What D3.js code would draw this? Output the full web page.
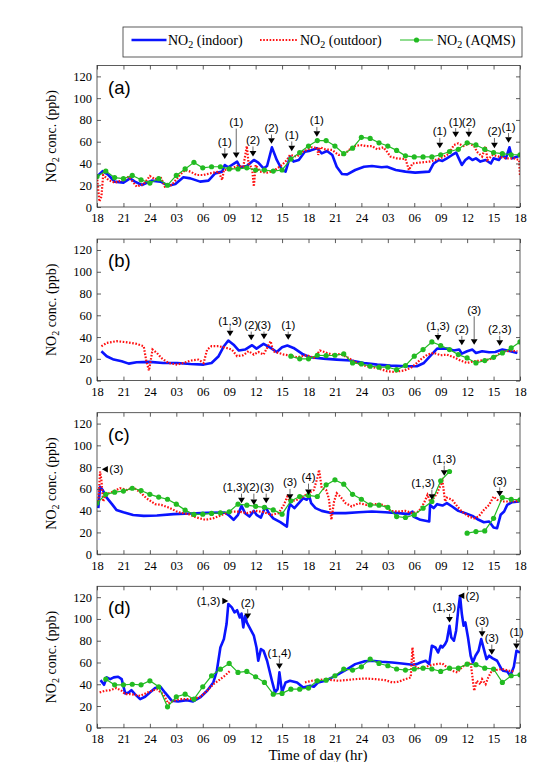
<!DOCTYPE html>
<html><head><meta charset="utf-8">
<script src="https://cdn.jsdelivr.net/npm/d3@7/dist/d3.min.js"></script>
<style>body{margin:0;background:#fff}</style>
</head><body>
<svg id="chart" width="557" height="762"></svg>
<script>
// ---------- DATA ----------
const hourLabels = ["18","21","24","03","06","09","12","15","18","21","24","03","06","09","12","15","18"];
const yTickValues = [0,20,40,60,80,100,120];
const panelNames = ["(a)","(b)","(c)","(d)"];
const legendNames = [["NO","2"," (indoor)"],["NO","2"," (outdoor)"],["NO","2"," (AQMS)"]];

// hours since 18:00 of day 1, NO2 ppb
const indoorA = [[0,28],[0.64,33],[1.3,29.4],[2,23.3],[3,22.4],[3.75,26.3],[4.3,23.3],[5.1,20.2],[6.2,24.2],[7.2,23.3],[8.1,19.6],[8.9,21.1],[9.8,27.3],[10.6,26.3],[11.7,23.3],[12.65,24.2],[13.4,30.9],[14.2,32.5],[14.5,38.6],[14.9,36.5],[15.9,41.7],[16.25,36.5],[17,37.7],[17.8,43.2],[18.3,40.7],[18.9,35.5],[19.3,37.7],[19.85,54.8],[20.4,43.2],[21,34],[21.4,32.5],[21.9,46.3],[22.3,41.7],[22.9,43.2],[23.6,50.9],[24.2,51.8],[24.95,54],[25.5,49.3],[26.1,51.5],[26.7,47.8],[27.2,37],[27.8,30.3],[28.4,30],[29.3,34],[30.3,37],[31.2,37.7],[32.3,36.5],[32.9,37],[33.9,34],[35,32.5],[36.1,31.6],[37.7,32.5],[38.2,40],[38.8,43.2],[39.2,42.3],[39.7,44.7],[40.3,47.8],[40.75,50],[41,45.6],[41.4,38.6],[41.8,43.2],[42.2,45.6],[42.6,43.2],[43,44.7],[43.5,41.7],[44.1,43.2],[44.7,40],[45,44.7],[45.6,43.2],[46,47.8],[46.4,44.7],[46.8,54.8],[47.1,44.7],[47.9,46.9]];
const outdoorA = [[0,28],[0.27,5],[0.5,9.5],[0.7,29.4],[1.3,24.8],[2,22.4],[3,24.8],[3.6,27.9],[4.5,18.7],[5.3,21.1],[6,28.5],[6.6,25.4],[7.2,27.9],[7.7,18.7],[8.5,20.2],[9.4,29.4],[10,34],[10.6,32.5],[11.3,29.4],[12.1,29.4],[12.8,30.9],[13.8,32.5],[14.2,24.8],[14.4,34],[15.1,34.6],[15.9,37.7],[16.6,37],[17,56],[17.2,40],[17.6,35.5],[17.8,18.7],[18,38.6],[18.5,32.5],[19.3,31.6],[20,33],[21,38.6],[21.55,43.2],[21.9,47.8],[22.7,46.3],[23.4,50.9],[24.4,54.8],[25,54],[25.1,47.8],[25.3,54.8],[25.9,53],[26.7,52.4],[27.4,47.8],[28,47.8],[28.6,52.4],[29.3,56],[29.9,57],[30.5,56],[31.2,56],[31.8,53],[32.5,54.8],[32.9,50.9],[33.3,46.3],[34,44.7],[35,44.1],[35.4,34],[35.8,40],[36.5,40.7],[37.7,41.7],[38.4,43.2],[39.2,45.6],[39.9,48.7],[40.5,57],[41,58.5],[41.6,56],[42.2,58.5],[42.8,56],[43.1,50.9],[43.7,46.3],[44.1,56],[44.3,43.2],[44.9,47.8],[45.6,46.3],[46.4,44.7],[47.3,44.7],[47.9,43.2],[48,28]];
const aqmsA = [[0,28],[1,33],[2,27],[3,26],[4,29],[5,25],[6,22],[7,26],[8,20],[9,29],[10,35],[11,41],[12,36],[13,37],[14,37],[15,35],[16,35],[17,36],[18,34],[19,34],[20,33],[21,34],[22,44],[23,50],[24,56],[25,61],[26,61],[27,56],[28,49],[29,54],[30,64],[31,63],[32,59],[33,56],[34,52],[35,47],[36,46],[37,46],[38,46],[39,48],[40,51],[41,53],[42,59],[43,57],[44,53],[45,50],[46,49],[47,48],[48,48]];

const indoorB = [[0.5,27],[1.1,22.4],[1.9,19.3],[2.8,17.8],[3.6,15.6],[4.5,16.9],[6,17.2],[7.5,16.2],[9.1,16.2],[10.6,15.3],[12.1,14.7],[13,16.2],[13.8,22.4],[14.4,31.6],[14.9,36.8],[15.5,33],[16.1,27.6],[16.8,28.5],[17.6,32.5],[18.1,29.4],[18.9,33.7],[19.7,30],[20.4,26.3],[21,30.6],[21.6,32.2],[22.3,30],[23.3,24.5],[24.2,21.4],[25.7,20.2],[27.2,19.3],[28.8,18.4],[30.3,16.2],[31.8,14.7],[33.3,13.8],[35.2,13.2],[36.3,13.2],[37.1,16.2],[37.8,22.4],[38.6,29.4],[39.7,29.4],[40.5,27.6],[41.1,28.5],[41.4,24.8],[42,27],[42.6,28.5],[43,25.4],[43.7,27],[44.5,26],[45.2,26.3],[46,28.5],[46.9,27],[47.7,25.4]];
const outdoorB = [[0.5,31.6],[1.1,34.6],[2.2,36.2],[3.4,35.2],[4.5,33.7],[5.3,31.6],[5.6,17.8],[5.9,9.2],[6.3,28.5],[6.8,25.4],[7.3,20.8],[8.1,16.2],[9.1,14.7],[9.8,16.2],[10.6,18.4],[11.5,19.3],[12.1,16.2],[12.5,28.5],[13,31.6],[13.8,31.6],[14.7,30],[15.3,28.5],[15.9,22.4],[16.6,23.3],[17.2,27],[17.8,23.9],[18.3,26.3],[18.9,23.9],[19.7,36.2],[20,27],[20.6,25.4],[21.2,23.9],[21.9,23],[22.7,21.4],[23.8,23.3],[24.6,20.8],[25.3,27.6],[26.1,25.4],[26.9,23.3],[27.6,24.5],[28.4,21.4],[29.5,16.2],[30.6,13.2],[31.8,11.6],[32.9,8.6],[33.7,8],[34.8,9.2],[35.6,11.6],[36.1,14.7],[36.7,19.3],[37.5,23.9],[38.2,25.4],[39,23.3],[39.7,23.9],[40.5,21.4],[41.25,18.4],[42,16.2],[42.8,17.8],[43.5,18.4],[44.5,19.3],[45.2,22.4],[46,26.3],[46.9,27.6],[47.7,27]];
const aqmsB = [[22,22.4],[23,20],[24,20],[25,23.3],[26,23],[27,23.3],[28,24.5],[29,16.2],[30,15.3],[31,13.2],[32,12.3],[33,12.3],[34,10],[35,13.8],[36,22.4],[37,28.5],[38,35.5],[39,32.2],[40,28.5],[41,23.9],[42,20.8],[43,16.2],[44,18.4],[45,21.4],[46,25.4],[47,30],[48,35.5]];

const indoorC = [[0.15,42.3],[0.35,62],[0.65,59],[1.1,52],[1.7,46],[2.2,40.7],[3,38.6],[4.1,36],[5.3,35.2],[6.8,35.5],[8.7,36.8],[10.6,37.4],[12.5,38],[14.5,38.3],[14.9,36.2],[15.5,31.6],[16,36.2],[16.4,44.4],[16.8,37.7],[17.3,34.6],[17.8,39.8],[18.1,36.2],[18.6,33.7],[19.1,43.8],[19.5,37.7],[20,33],[20.8,29.4],[21.55,25.4],[21.7,39.2],[21.9,46],[22.4,42.3],[22.9,46.9],[23.4,51.5],[23.8,50],[24.1,53],[24.3,47],[24.8,42.3],[25.5,39.8],[26.7,37.7],[28.2,37.7],[29.7,38.6],[31.2,39.2],[32.7,38.6],[34.2,37.7],[35.4,36.8],[35.8,39.2],[35.9,34.6],[36.7,31.6],[37.7,30],[37.8,45.3],[38.2,42.3],[38.6,46],[39.2,44.7],[39.7,46.9],[40.3,43.8],[41,39.8],[41.8,37.7],[42.6,35.2],[43.3,31.6],[43.9,29.4],[44.5,30],[45,24.5],[45.4,23.9],[45.8,36.2],[46.2,39.2],[46.55,45.3],[47.1,47.8],[47.9,48.4]];
const outdoorC = [[0.15,48.4],[0.35,76],[0.5,68],[0.7,48.4],[1,55],[1.7,57],[2.6,60.7],[3.4,59],[4.1,61.3],[4.9,57],[5.6,51.5],[6.6,46],[7.3,45.3],[8.3,42.3],[9.2,38.6],[10.4,36.8],[11.3,33.7],[12.3,31.6],[13.2,33],[14.2,36.2],[15.1,39.2],[16.1,39.2],[17,37.7],[18,39.8],[18.9,38.6],[19.8,36.2],[20.6,37.7],[21.2,45.3],[21.6,53],[21.9,48.4],[22.7,50],[23.4,53],[24,56],[24.6,59],[25,70],[25.2,77.5],[25.5,60.7],[26,59],[26.3,51.5],[26.6,31.6],[26.9,48.4],[27.2,56],[27.6,53],[28.2,46.9],[28.9,43.8],[29.7,46.9],[30.6,45.3],[31.6,46],[32.5,45.3],[33.3,39.8],[34.1,39.2],[35,39.8],[35.8,37.7],[36.5,39.2],[37.1,46.9],[37.5,54.5],[37.8,48.4],[38.2,51.5],[38.6,56],[39,63.7],[39.2,67.4],[39.5,48.4],[39.7,52],[40.3,50],[40.9,43.8],[41.4,39.2],[42.2,34.6],[42.8,33],[43.3,34.6],[43.9,40.7],[44.5,45.3],[45,53],[45.4,50],[46,48.4],[46.75,48.4],[47.5,48.4],[48,50]];
const aqmsC = [[0,47],[1,55],[2,57],[3,58],[4,60.6],[5,58.5],[6,55],[7,52.5],[8,50.5],[9,46],[10,40.5],[11,36.5],[12,36.8],[13,37.5],[14,38],[15,39],[16,46],[17,45],[18,44],[19,43],[20,40.7],[21,36.8],[22,49],[23,53],[24,54],[25,53],[26,63.7],[27,68.3],[28,64.3],[29,55],[30,50.5],[31,45.3],[32,45],[33,43],[34,34.6],[35,33.7],[36,36.2],[37,42.3],[38,48.4],[39,67.4],[40,76],null,[42,19.3],[43,20.8],[44,21.4],[45,33],[46,52],[47,50.5],[48,50]];

const indoorD = [[0.4,43.8],[0.8,39.5],[1.1,46.3],[1.5,44.7],[1.9,46.3],[2.4,46.9],[2.8,44.7],[3.2,31.6],[3.6,32.5],[3.9,34.6],[4.3,30.9],[4.9,26.3],[5.45,28.5],[6,32.5],[6.6,36.5],[7.2,37.7],[7.7,32.5],[8.5,24.8],[9.2,24.2],[10.2,25.4],[10.9,24.2],[11.7,27.9],[12.5,34],[13.2,41.7],[13.6,52.4],[14,73.8],[14.4,81.5],[14.7,95.3],[14.9,113.7],[15.3,110.6],[15.6,106],[15.9,108],[16.2,101.4],[16.4,105],[16.6,92.2],[16.8,103],[17,96.8],[17.3,92.2],[17.8,84.6],[18.1,73.8],[18.3,61.6],[18.6,72.3],[18.9,70.8],[19.3,61.6],[19.85,43.2],[20.2,32.5],[20.5,35.5],[20.7,50.9],[21,32.5],[21.4,41.7],[21.9,43.2],[22.7,41.7],[23.4,37],[24.2,38.6],[24.6,37.7],[25.1,41.7],[25.9,43.2],[26.7,46.3],[27.4,49.3],[28.4,54],[29.3,58.5],[30.3,61],[31.2,61.6],[32.3,60.7],[33.5,60],[34.6,59],[35.8,58],[36.3,58.5],[36.7,60],[37.3,61.6],[37.7,58.5],[38,75.4],[38.4,73.8],[38.7,69.2],[39,75.4],[39.2,73.8],[39.5,76.9],[39.7,80],[40,93.8],[40.2,83],[40.5,80],[40.75,89.2],[41,109],[41.2,121.3],[41.4,104.5],[41.6,93.8],[41.8,96.8],[42.1,83],[42.4,66.2],[42.65,60],[42.95,66.2],[43.3,70.8],[43.6,81.5],[43.9,72.3],[44.2,63.1],[44.5,66.2],[44.85,64],[45.4,61.6],[45.9,54],[46.1,52.4],[46.55,51.8],[46.9,47.8],[47.3,56],[47.6,70.8],[48,69]];
const outdoorD = [[0.3,32.5],[0.9,34],[1.5,34.6],[2.2,36.5],[2.8,34],[3.2,30.9],[3.75,31],[4.9,29.4],[6,33.4],[6.8,35.5],[7.5,30.9],[8.1,22.4],[8.7,24.8],[9.4,26.3],[10.2,26.3],[10.9,26.3],[11.7,28.5],[12.5,34],[13.2,40],[14,44.7],[14.5,47.8],[15.1,52.4],null,[23.6,41.7],[24.4,43.2],[25.1,43.8],[25.9,44.7],[26.7,43.8],[27.4,43.2],[28.2,43.8],[29.3,44.7],[30.4,45.3],[31.6,44.7],[32.7,43.8],[33.5,41.7],[34.2,42.3],[35,44.7],[35.6,46.3],[35.8,73.8],[36,57],[36.3,54.8],[36.9,54.8],[37.7,57],[38.4,58.5],[39.2,59.1],[39.7,55.5],[40.3,52.4],[40.9,50.9],[41.4,55.5],[42,59.1],[42.4,60],[42.8,34],[43.1,43.2],[43.5,40],[43.7,44.7],[44.1,40],[44.4,46.3],[44.7,50.9],[45.2,53],[46,54],[46.75,52.4],[47.3,51.8]];
const aqmsD = [[1,44.7],[2,39.5],[3,39.5],[4,40],[5,39.5],[6,43.2],[7,37.7],[8,19.3],[9,28.5],[10,30.9],[11,26.3],[12,37.7],[13,47.8],[14,53.9],[15,59.1],[16,50.9],[17,51.8],[18,46.9],[19,41.7],[20,30.9],[21,31.6],[22,35.5],[23,35.5],[24,36.5],[25,43.2],[26,43.8],[27,47.8],[28,54],[29,53],[30,56],[31,63.1],[32,59.1],[33,57],[34,54],[35,53],[36,54],[37,54.8],[38,54],[39,51.8],[40,54.8],[41,54.8],[42,58.5],[43,58],[44,54.8],[45,54],[46,41.7],[47,47.8],[48,48.7]];

// annotations: [arrow hour, tip ppb, label ppb, text, label hour (optional), direction]
const annA = [[14.5,44,60,"(1)"],[15.8,45,78,"(1)"],[17.7,46.3,61.6,"(2)"],[19.8,58.2,72.5,"(2)"],[22.1,51.2,66.2,"(1)"],[24.95,64.6,79.5,"(1)"],[38.9,54,69.4,"(1)"],[40.7,64,78.4,"(1)"],[42.2,64,78.4,"(2)"],[45.1,54,69.4,"(2)"],[46.7,59.1,73.9,"(1)"]];
const annB = [[15.1,40.7,55,"(1,3)"],[17.5,37,51,"(2)"],[18.95,38,51,"(3)"],[21.7,37.5,51,"(1)"],[38.7,36.8,50,"(1,3)"],[41.4,32.5,47,"(2)"],[42.8,33,65,"(3)"],[45.7,32,47,"(2,3)"]];
const annC = [[0.55,78,78,"(3)",2.2,"left"],[16.4,46.9,61.6,"(1,3)",15.6],[17.8,45.3,61.6,"(2)",17.65],[19.2,46.9,61.6,"(3)",19.3],[21.9,50,65.9,"(3)"],[24,54.5,70.8,"(4)"],[38,50,65.3,"(1,3)",37],[39.4,72,87.3,"(1,3)"],[45.7,53,67.4,"(3)"]];
const annD = [[14.9,116.5,116.5,"(1,3)",12.65,"right"],[17.1,100,115,"(2)"],[20.7,54,69.2,"(1,4)"],[40,96.8,110.6,"(1,3)",39.4],[41.0,121.3,121.3,"(2)",42.6,"left"],[43.7,83.6,98.3,"(3)"],[44.8,67,82.4,"(3)"],[47.6,72.3,87.6,"(1)"]];

const panels = [
  {name: panelNames[0], indoor: indoorA, outdoor: outdoorA, aqms: aqmsA, ann: annA},
  {name: panelNames[1], indoor: indoorB, outdoor: outdoorB, aqms: aqmsB, ann: annB},
  {name: panelNames[2], indoor: indoorC, outdoor: outdoorC, aqms: aqmsC, ann: annC},
  {name: panelNames[3], indoor: indoorD, outdoor: outdoorD, aqms: aqmsD, ann: annD}
];

// ---------- STYLE / LAYOUT ----------
const C_IN = "#0a14ff", C_OUT = "#ff1010", C_AQ = "#22bb22";
const SERIF = "'Liberation Serif','Times New Roman',serif";
const SANS = "'Liberation Sans',Arial,sans-serif";
const X0 = 97, X1 = 520, TOP0 = 65.5, STEP = 173.6, PH = 141.5;

const svg = d3.select("#chart");
svg.append("rect").attr("width",557).attr("height",762).attr("fill","#fff");
const x = d3.scaleLinear().domain([0,48]).range([X0,X1]);

panels.forEach((p,i)=>{
  const top = TOP0 + i*STEP, bot = top + PH;
  const y = d3.scaleLinear().domain([0,130]).range([bot, top]);
  const g = svg.append("g");
  const cid = "clip"+i;
  g.append("clipPath").attr("id",cid).append("rect")
    .attr("x",X0).attr("y",top).attr("width",X1-X0).attr("height",PH);

  const line = d3.line().defined(d=>d!==null).x(d=>x(d[0])).y(d=>y(d[1]));
  const plot = g.append("g").attr("clip-path",`url(#${cid})`);
  plot.append("path").datum(p.indoor).attr("d",line)
    .attr("fill","none").attr("stroke",C_IN).attr("stroke-width",2.6).attr("stroke-linejoin","round");
  plot.append("path").datum(p.outdoor).attr("d",line)
    .attr("fill","none").attr("stroke",C_OUT).attr("stroke-width",2.2).attr("stroke-dasharray","1.6,1.6");
  plot.append("path").datum(p.aqms).attr("d",line)
    .attr("fill","none").attr("stroke",C_AQ).attr("stroke-width",1.2);
  plot.selectAll("circle.m").data(p.aqms.filter(d=>d!==null)).enter().append("circle")
    .attr("class","m").attr("cx",d=>x(d[0])).attr("cy",d=>y(d[1])).attr("r",2.6).attr("fill",C_AQ);

  // axes (inward ticks on all sides)
  const ticksX = d3.range(0,49,3);
  const axB = d3.axisBottom(x).tickValues(ticksX).tickFormat((d,k)=>hourLabels[k]).tickSize(-4).tickPadding(6.5);
  const axT = d3.axisTop(x).tickValues(ticksX).tickFormat("").tickSize(-4);
  const axL = d3.axisLeft(y).tickValues(yTickValues).tickSize(-4).tickPadding(5);
  const axR = d3.axisRight(y).tickValues(yTickValues).tickFormat("").tickSize(-4);
  const styleAx = sel => {
    sel.select(".domain").remove();
    sel.selectAll(".tick line").attr("stroke","#333").attr("stroke-width",0.8);
    sel.selectAll("text").attr("font-family",SERIF).attr("font-size",12.5).attr("fill","#000");
  };
  g.append("g").attr("transform",`translate(0,${bot})`).call(axB).call(styleAx);
  g.append("g").attr("transform",`translate(0,${top})`).call(axT).call(styleAx);
  g.append("g").attr("transform",`translate(${X0},0)`).call(axL).call(styleAx);
  g.append("g").attr("transform",`translate(${X1},0)`).call(axR).call(styleAx);
  g.append("rect").attr("x",X0).attr("y",top).attr("width",X1-X0).attr("height",PH)
    .attr("fill","none").attr("stroke","#333").attr("stroke-width",0.8);

  // y label
  const yl = g.append("text").attr("transform",`translate(56,${(top+bot)/2}) rotate(-90)`)
    .attr("text-anchor","middle").attr("font-family",SERIF).attr("font-size",14).attr("fill","#000");
  yl.append("tspan").text("NO");
  yl.append("tspan").text("2").attr("font-size",10).attr("dy",3);
  yl.append("tspan").text(" conc. (ppb)").attr("dy",-3);

  // panel letter
  g.append("text").attr("x",108).attr("y",top+28).attr("font-family",SANS).attr("font-size",18.5)
    .attr("fill","#000").text(p.name);

  // annotations
  const ag = g.append("g");
  p.ann.forEach(a=>{
    const [h, tv, lv, txt, lh, dir] = a;
    const tx = x(h), ty = y(tv);
    if (dir === "left" || dir === "right") {
      const s = dir === "left" ? 1 : -1;
      ag.append("path").attr("d",`M${tx},${ty} L${tx+s*6},${ty-3.3} L${tx+s*6},${ty+3.3} Z`).attr("fill","#000");
      ag.append("text").attr("x",x(lh)).attr("y",y(lv)).attr("dy","0.35em").attr("text-anchor","middle")
        .attr("font-family",SANS).attr("font-size",11.5).attr("fill","#000").text(txt);
    } else {
      const lx = lh === undefined ? tx : x(lh);
      const ly = y(lv);
      ag.append("path").attr("d",`M${tx-3.4},${ty-5.5} L${tx+3.4},${ty-5.5} L${tx},${ty} Z`).attr("fill","#000");
      const y1 = ly + 6.5, y2 = ty - 5.5;
      if (y2 > y1) ag.append("line").attr("x1",tx).attr("x2",tx).attr("y1",y1).attr("y2",y2)
        .attr("stroke","#444").attr("stroke-width",0.8);
      ag.append("text").attr("x",lx).attr("y",ly).attr("dy","0.35em").attr("text-anchor","middle")
        .attr("font-family",SANS).attr("font-size",11.5).attr("fill","#000").text(txt);
    }
  });
});

// x axis title
svg.append("text").attr("x",318).attr("y",760).attr("text-anchor","middle")
  .attr("font-family",SERIF).attr("font-size",15).attr("fill","#000").text("Time of day (hr)");

// legend
const lg = svg.append("g");
lg.append("rect").attr("x",123).attr("y",27).attr("width",399).attr("height",30)
  .attr("fill","#fff").attr("stroke","#333").attr("stroke-width",0.8);
const legItems = [
  {x1:131.5, x2:166.5, tx:168, color:C_IN, w:2.6, dash:null, marker:false},
  {x1:260, x2:297, tx:300, color:C_OUT, w:2.2, dash:"1.6,1.6", marker:false},
  {x1:400, x2:433, tx:437, color:C_AQ, w:1.2, dash:null, marker:true}
];
legItems.forEach((it,k)=>{
  lg.append("line").attr("x1",it.x1).attr("x2",it.x2).attr("y1",40).attr("y2",40)
    .attr("stroke",it.color).attr("stroke-width",it.w).attr("stroke-dasharray",it.dash);
  if (it.marker) lg.append("circle").attr("cx",(it.x1+it.x2)/2).attr("cy",40).attr("r",2.6).attr("fill",it.color);
  const t = lg.append("text").attr("x",it.tx).attr("y",44.5).attr("font-family",SERIF).attr("font-size",14).attr("fill","#000");
  t.append("tspan").text(legendNames[k][0]);
  t.append("tspan").text(legendNames[k][1]).attr("font-size",10).attr("dy",3.5);
  t.append("tspan").text(legendNames[k][2]).attr("dy",-3.5);
});
</script>
</body></html>
